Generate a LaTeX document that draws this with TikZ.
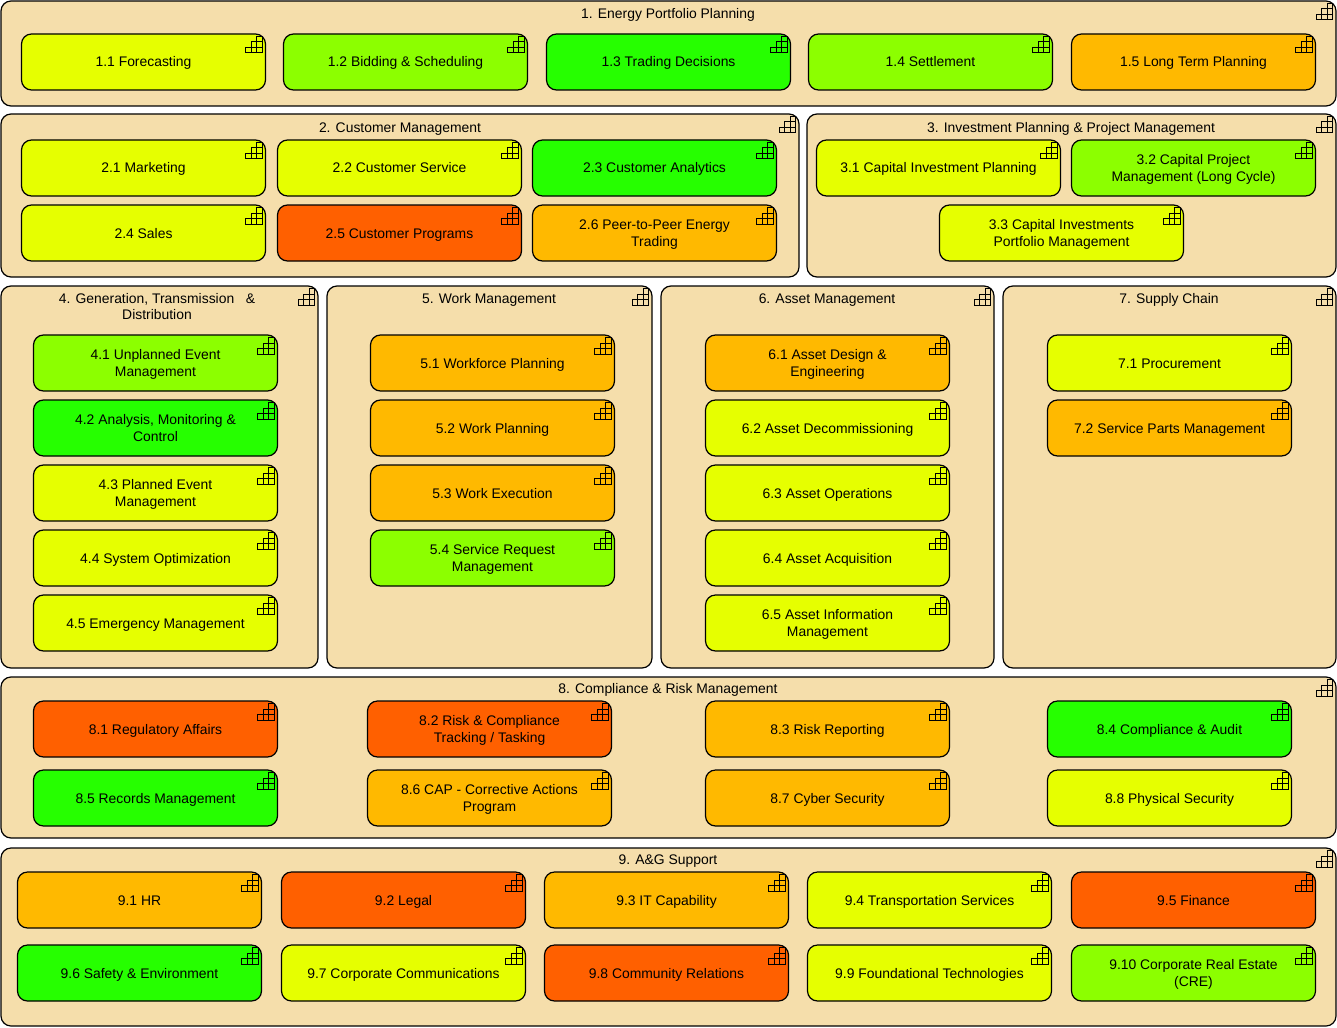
\documentclass[tikz,border=0pt]{standalone}
\usepackage{fontspec}
\setmainfont{Liberation Sans}
\definecolor{groupfill}{HTML}{F5DEAB}
\definecolor{cyellow}{HTML}{E6FF00}
\definecolor{clime}{HTML}{8CFF00}
\definecolor{cgreen}{HTML}{26FF00}
\definecolor{corange}{HTML}{FFB900}
\definecolor{cred}{HTML}{FF6000}
\newcommand{\textrule}{\rule[-3pt]{0pt}{16pt}} % keeps the baselines of all boxes level
\newcommand{\tallrule}{\rule[-3pt]{0pt}{33pt}}
\tikzstyle{groupbox}=[draw=black,fill=groupfill,line width=1.2pt,rounded corners=10pt,inner sep=0pt]
\tikzstyle{capbox}=[draw=black,line width=1.2pt,rounded corners=10pt,inner sep=0pt,minimum width=244pt,minimum height=56pt,align=center,font=\fontsize{13.9}{17}\selectfont,execute at begin node=\textrule,execute at end node=\textrule]
\tikzstyle{twoline}=[execute at begin node=\tallrule]
\tikzstyle{grouptitle}=[inner sep=0pt,align=center,font=\fontsize{13.9}{16}\selectfont,execute at begin node=\textrule,execute at end node=\textrule]
\tikzstyle{iconline}=[line width=0.8pt,black]
\newcommand{\drawicon}[1]{
	\begin{scope}[shift={(#1.north east)}]
	\draw[iconline] (-4,3) rectangle (-9.5,8.5) (-4,8.5) rectangle (-9.5,14) (-9.5,8.5) rectangle (-15,14);
	\draw[iconline] (-4,14) rectangle (-9.5,19.5) (-9.5,14) rectangle (-15,19.5) (-15,14) rectangle (-20.5,19.5);
	\end{scope}
}
% name, left, top, right, bottom
\newcommand{\newgroup}[5]{
	\node[groupbox,minimum width=#4pt-#2pt,minimum height=#5pt-#3pt] (#1) at ({(#2+#4)/2},{(#3+#5)/2}) {};
	\drawicon{#1}
}
% name, left, top, text
\newcommand{\newcap}[5][]{
	\node[capbox,#1] (#2) at (#3+122.5,#4+28) {#5};
	\drawicon{#2}
}
\begin{document}
\begin{tikzpicture}[x=1pt,y=-1pt]
	\useasboundingbox (0,0) rectangle (1337,1027);
	% 1
	\newgroup{gone}{1}{1}{1336}{106}
	\node[grouptitle] (tone) at (668,13.5) {1. Energy Portfolio Planning};
	\newcap[fill=cyellow]{aa}{21}{34}{1.1 Forecasting}
	\newcap[fill=clime]{ab}{283}{34}{1.2 Bidding \& Scheduling}
	\newcap[fill=cgreen]{ac}{546}{34}{1.3 Trading Decisions}
	\newcap[fill=clime]{ad}{808}{34}{1.4 Settlement}
	\newcap[fill=corange]{ae}{1071}{34}{1.5 Long Term Planning}
	% 2
	\newgroup{gtwo}{1}{114}{799}{277}
	\node[grouptitle] (ttwo) at (400,127.5) {2. Customer Management};
	\newcap[fill=cyellow]{ba}{21}{140}{2.1 Marketing}
	\newcap[fill=cyellow]{bb}{277}{140}{2.2 Customer Service}
	\newcap[fill=cgreen]{bc}{532}{140}{2.3 Customer Analytics}
	\newcap[fill=cyellow]{bd}{21}{205}{2.4 Sales}
	\newcap[fill=cred]{be}{277}{205}{2.5 Customer Programs}
	\newcap[fill=corange,twoline]{bf}{532}{205}{2.6 Peer-to-Peer Energy\\Trading}
	% 3
	\newgroup{gthree}{807}{114}{1336}{277}
	\node[grouptitle] (tthree) at (1071,127.5) {3. Investment Planning \& Project Management};
	\newcap[fill=cyellow]{ca}{816}{140}{3.1 Capital Investment Planning}
	\newcap[fill=clime,twoline]{cb}{1071}{140}{3.2 Capital Project\\Management (Long Cycle)}
	\newcap[fill=cyellow,twoline]{cc}{939}{205}{3.3 Capital Investments\\Portfolio Management}
	% 4
	\newgroup{gfour}{1}{286}{318}{668}
	\node[grouptitle] (tfour) at (157,308) {4. Generation, Transmission~~~\&\\Distribution};
	\newcap[fill=clime,twoline]{da}{33}{335}{4.1 Unplanned Event\\Management}
	\newcap[fill=cgreen,twoline]{db}{33}{400}{4.2 Analysis, Monitoring \&\\Control}
	\newcap[fill=cyellow,twoline]{dc}{33}{465}{4.3 Planned Event\\Management}
	\newcap[fill=cyellow]{dd}{33}{530}{4.4 System Optimization}
	\newcap[fill=cyellow]{de}{33}{595}{4.5 Emergency Management}
	% 5
	\newgroup{gfive}{327}{286}{652}{668}
	\node[grouptitle] (tfive) at (489,298) {5. Work Management};
	\newcap[fill=corange]{ea}{370}{335}{5.1 Workforce Planning}
	\newcap[fill=corange]{eb}{370}{400}{5.2 Work Planning}
	\newcap[fill=corange]{ec}{370}{465}{5.3 Work Execution}
	\newcap[fill=clime,twoline]{ed}{370}{530}{5.4 Service Request\\Management}
	% 6
	\newgroup{gsix}{661}{286}{994}{668}
	\node[grouptitle] (tsix) at (827,298) {6. Asset Management};
	\newcap[fill=corange,twoline]{fa}{705}{335}{6.1 Asset Design \&\\Engineering}
	\newcap[fill=cyellow]{fb}{705}{400}{6.2 Asset Decommissioning}
	\newcap[fill=cyellow]{fc}{705}{465}{6.3 Asset Operations}
	\newcap[fill=cyellow]{fd}{705}{530}{6.4 Asset Acquisition}
	\newcap[fill=cyellow,twoline]{fe}{705}{595}{6.5 Asset Information\\Management}
	% 7
	\newgroup{gseven}{1003}{286}{1336}{668}
	\node[grouptitle] (tseven) at (1169,298) {7. Supply Chain};
	\newcap[fill=cyellow]{ga}{1047}{335}{7.1 Procurement}
	\newcap[fill=corange]{gb}{1047}{400}{7.2 Service Parts Management}
	% 8
	\newgroup{geight}{1}{677}{1336}{838}
	\node[grouptitle] (teight) at (668,688) {8. Compliance \& Risk Management};
	\newcap[fill=cred]{ha}{33}{701}{8.1 Regulatory Affairs}
	\newcap[fill=cred,twoline]{hb}{367}{701}{8.2 Risk \& Compliance\\Tracking / Tasking}
	\newcap[fill=corange]{hc}{705}{701}{8.3 Risk Reporting}
	\newcap[fill=cgreen]{hd}{1047}{701}{8.4 Compliance \& Audit}
	\newcap[fill=cgreen]{he}{33}{770}{8.5 Records Management}
	\newcap[fill=corange,twoline]{hf}{367}{770}{8.6 CAP - Corrective Actions\\Program}
	\newcap[fill=corange]{hg}{705}{770}{8.7 Cyber Security}
	\newcap[fill=cyellow]{hh}{1047}{770}{8.8 Physical Security}
	% 9
	\newgroup{gnine}{1}{848}{1336}{1026}
	\node[grouptitle] (tnine) at (668,859) {9. A\&G Support};
	\newcap[fill=corange]{ia}{17}{872}{9.1 HR}
	\newcap[fill=cred]{ib}{281}{872}{9.2 Legal}
	\newcap[fill=corange]{ic}{544}{872}{9.3 IT Capability}
	\newcap[fill=cyellow]{id}{807}{872}{9.4 Transportation Services}
	\newcap[fill=cred]{ie}{1071}{872}{9.5 Finance}
	\newcap[fill=cgreen]{if}{17}{945}{9.6 Safety \& Environment}
	\newcap[fill=cyellow]{ig}{281}{945}{9.7 Corporate Communications}
	\newcap[fill=cred]{ih}{544}{945}{9.8 Community Relations}
	\newcap[fill=cyellow]{ii}{807}{945}{9.9 Foundational Technologies}
	\newcap[fill=clime,twoline]{ij}{1071}{945}{9.10 Corporate Real Estate\\(CRE)}
\end{tikzpicture}
\end{document}
